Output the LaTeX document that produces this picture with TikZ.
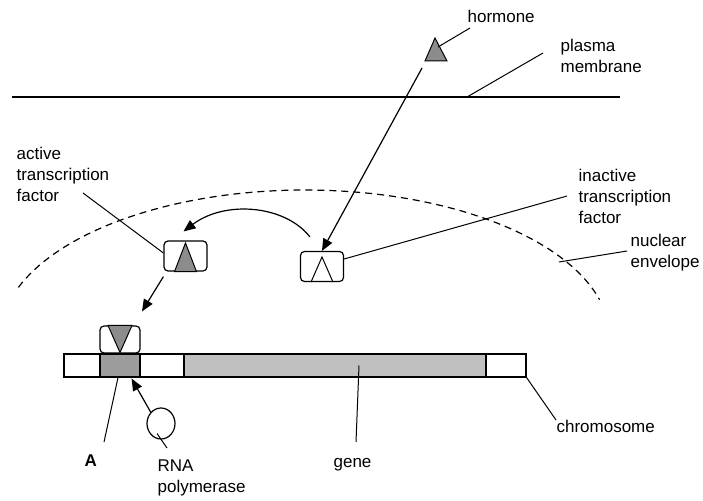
\documentclass[tikz,border=0pt]{standalone}
\usepackage{fontspec}
\setmainfont{Liberation Sans}
\usetikzlibrary{arrows.meta, positioning, calc, shapes.geometric}
\definecolor{tfgray}{HTML}{8C8C8C}
\definecolor{promgray}{HTML}{9C9C9C}
\definecolor{genegray}{HTML}{C0C0C0}

\begin{document}
\begin{tikzpicture}[
	% One unit is one pixel of the reference, y pointing down.
	x=1pt, y=-1pt, line width=1.2pt
	]
	% Define custom styles to make the code cleaner and more reusable.
	\tikzset{
		lbl/.style={align=left, inner sep=0pt, anchor=base west, font=\fontsize{17}{21}\selectfont},
		tfbox/.style={draw, rounded corners=4pt, minimum width=43pt, minimum height=30pt, inner sep=0pt},
		seg/.style={draw, rectangle, minimum height=23pt, inner sep=0pt},
		line/.style={-{Triangle[length=12pt, width=10pt]}}
	}
	\useasboundingbox (0,0) rectangle (703,500);
	
	% === NODES ===
	% Labels (base west is the baseline of the last line)
	\node[lbl] (hormonelbl) at (467,23) {hormone};
	\node[lbl] (memlbl) at (560,73) {plasma\\membrane};
	\node[lbl] (actlbl) at (16,201) {active\\transcription\\factor};
	\node[lbl] (inactlbl) at (578,223) {inactive\\transcription\\factor};
	\node[lbl] (nuclbl) at (630,267) {nuclear\\envelope};
	\node[lbl, font=\fontsize{17}{21}\selectfont\bfseries] (Albl) at (84,466) {A};
	\node[lbl] (rnalbl) at (157,492) {RNA\\polymerase};
	\node[lbl] (genelbl) at (333,467) {gene};
	\node[lbl] (chromlbl) at (556,432) {chromosome};
	
	% Transcription factor boxes
	\node[tfbox] (inact) at (322,266.5) {};
	\node[tfbox] (act) at (185.5,256) {};
	\node[tfbox, minimum width=40pt, minimum height=27pt] (bound) at (120,339.5) {};
	
	% Chromosome
	\node[seg, minimum width=36pt] (leftend) at (82,365.5) {};
	\node[seg, minimum width=40pt, fill=promgray] (prom) at (120,365.5) {};
	\node[seg, minimum width=44pt] (spacer) at (162,365.5) {};
	\node[seg, minimum width=302pt, fill=genegray] (gene) at (335,365.5) {};
	\node[seg, minimum width=40pt] (rightend) at (506,365.5) {};
	
	% RNA polymerase
	\node[draw, ellipse, minimum width=28pt, minimum height=31pt, inner sep=0pt] (rnapol) at (161,423.5) {};
	
	% Hormone and membrane
	\coordinate (hormone) at (436,52);
	\coordinate (memL) at (12,97);
	\coordinate (memR) at (620,97);
	\coordinate (memP) at (467,97);
	
	% === SHAPES ===
	\draw[fill=tfgray, line width=1pt] ($(hormone)+(-11,9)$) -- ($(hormone)+(11,9)$) -- ($(hormone)+(-1,-14)$) -- cycle;
	\draw[line width=1pt] ($(inact.south)+(-11,0)$) -- ($(inact.center)+(0,-9.5)$) -- ($(inact.south)+(11,0)$);
	\draw[fill=tfgray, line width=1pt] ($(act.south)+(-11,0)$) -- ($(act.center)+(0,-13)$) -- ($(act.south)+(11,0)$) -- cycle;
	\draw[fill=tfgray, line width=1pt] ($(bound.north)+(-12,0)$) -- ($(bound.south)+(0,-1)$) -- ($(bound.north)+(12,0)$) -- cycle;
	
	% Plasma membrane
	\draw (memL) -- (memR);
	% Nuclear envelope
	\draw[dash pattern=on 7pt off 5pt] plot[domain=160:15, samples=80] ({305+305*cos(\x)}, {338-148*sin(\x)});
	
	% === CONNECTIONS ===
	\draw[line width=1pt] ($(hormonelbl.base west)+(3,5)$) -- ($(hormone)+(2,-5)$);
	\draw[line width=1pt] (memP) -- ($(memlbl.base west)+(-17,-20)$);
	\draw[line] ($(hormone)+(-14,16)$) -- (inact.north);
	\draw[line width=1pt] ($(inact.east)+(0,-7.5)$) -- ($(inactlbl.base west)+(-11,-27)$);
	\draw[line width=1pt] (559,262) -- ($(nuclbl.base west)+(-3,-16)$);
	\draw[line width=1pt] ($(actlbl.base west)+(67,-8)$) -- ($(act.west)+(0,-3)$);
	\draw[line] ($(inact.north west)+(10,-14)$) .. controls (285,205) and (225,200) .. ($(act.north)+(-2,-9)$);
	\draw[line] ($(act.south west)+(0,5)$) -- ($(bound.north)+(22,-14)$);
	\draw[line width=1pt] ($(prom.south)+(-2,0)$) -- ($(Albl.base west)+(20,-24)$);
	\draw[line] (rnapol.north west) -- ($(prom.south east)+(-9,1)$);
	\draw[line width=1pt] ($(rnapol.center)+(-4,10)$) -- ($(rnalbl.base west)+(10,-44)$);
	\draw[line width=1pt] ($(gene.center)+(24,0)$) -- ($(genelbl.base west)+(23,-25)$);
	\draw[line width=1pt] (rightend.south east) -- ($(chromlbl.base west)+(0,-12)$);
\end{tikzpicture}
\end{document}
